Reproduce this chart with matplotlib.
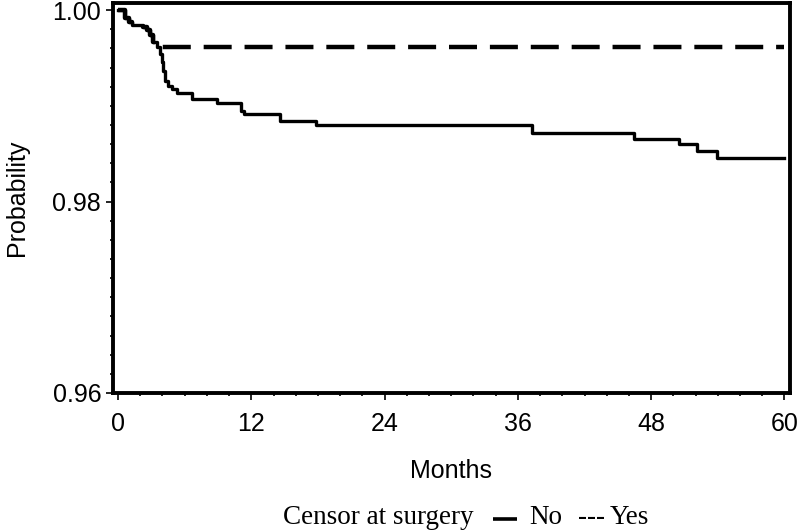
import matplotlib
matplotlib.use('Agg')
import matplotlib.pyplot as plt
from matplotlib.ticker import MultipleLocator, FixedLocator
from matplotlib.offsetbox import TextArea, DrawingArea, HPacker, AnchoredOffsetbox
from matplotlib.lines import Line2D

# Kaplan-Meier style step curves (months, survival probability after each step)
months_no = [0, 0.63, 0.99, 1.23, 2.27, 2.58, 2.88, 3.17, 3.48, 3.77, 3.93, 4.07,
             4.22, 4.52, 4.82, 5.27, 6.62, 8.87, 11.11, 11.3, 14.56, 17.85,
             37.29, 46.45, 50.49, 52.11, 53.91, 60]
surv_no = [1.0, 0.99913, 0.99874, 0.99842, 0.99824, 0.99789, 0.99737, 0.99666,
           0.99614, 0.99544, 0.99456, 0.99368, 0.99263, 0.99211, 0.99176, 0.99130,
           0.99071, 0.99024, 0.98947, 0.98913, 0.98842, 0.98797, 0.98719, 0.98650,
           0.98597, 0.98526, 0.98450, 0.98450]

months_yes = [0, 0.63, 0.99, 1.23, 2.27, 2.58, 2.88, 3.17, 3.48, 60]
surv_yes = [1.0, 0.99913, 0.99874, 0.99842, 0.99824, 0.99789, 0.99737, 0.99666,
            0.99614, 0.99614]

x_ticks = [0, 12, 24, 36, 48, 60]
y_ticks = [0.96, 0.98, 1.00]
y_labels = ['0.96', '0.98', '1.00']

plt.rcParams['font.family'] = ['Liberation Sans', 'DejaVu Sans']

fig = plt.figure(figsize=(8, 5.32), dpi=100)
ax = fig.add_axes([0.14125, 0.2613, 0.84625, 0.7331])

ax.step(months_yes, surv_yes, where='post', color='black', lw=3.2,
        linestyle=(0, (6.3, 2.9)))
ax.step(months_no, surv_no, where='post', color='black', lw=2.4)

ax.set_xlim(-0.45, 60.5)
ax.set_ylim(0.96, 1.00074)

ax.xaxis.set_major_locator(FixedLocator(x_ticks))
ax.xaxis.set_minor_locator(MultipleLocator(2))
ax.set_yticks(y_ticks)
ax.set_yticklabels(y_labels)
ax.yaxis.set_minor_locator(MultipleLocator(0.002))

for s in ax.spines.values():
    s.set_linewidth(2.8)
ax.tick_params(which='major', direction='out', length=5, width=1.2, labelsize=18)
ax.tick_params(axis='x', which='major', pad=9)
ax.tick_params(which='minor', direction='out', length=2.5, width=1.2)

ax.set_xlabel('Months', fontsize=18, labelpad=16)
ax.set_ylabel('Probability', fontsize=18, labelpad=17)

# legend row: "Censor at surgery  — No  --- Yes"
serif = dict(fontsize=19.5, family=['Liberation Serif', 'DejaVu Serif'])

def gap(w):
    return DrawingArea(w, 1, 0, 0)

sym = DrawingArea(17, 12, 0, 0)
sym.add_artist(Line2D([0, 17], [3, 3], color='black', lw=2.6, solid_capstyle='butt'))
row = HPacker(children=[TextArea('Censor at surgery', textprops=serif), gap(14), sym, gap(9),
                        TextArea('No', textprops=serif), gap(11),
                        TextArea('---', textprops=serif), gap(4),
                        TextArea('Yes', textprops=serif)],
              align='baseline', pad=0, sep=0)
box = AnchoredOffsetbox(loc='center', child=row, frameon=False, pad=0,
                        bbox_to_anchor=(0.583, 0.028), bbox_transform=fig.transFigure)
fig.add_artist(box)

plt.savefig('out.png', dpi=100)
